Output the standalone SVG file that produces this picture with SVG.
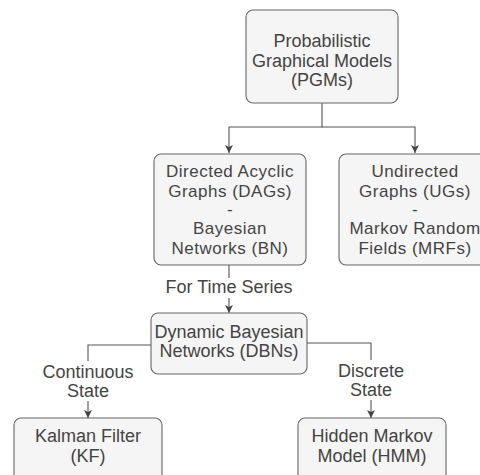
<svg xmlns="http://www.w3.org/2000/svg" width="480" height="475" viewBox="0 0 480 475">
  <style>
    .box { fill: #f5f5f5; stroke: #666666; stroke-width: 1.1; }
    .edge { fill: none; stroke: #555555; stroke-width: 1.1; }
    text { font-family: "Liberation Sans", Arial, sans-serif; font-size: 18px; fill: #444444; text-anchor: middle; }
    text.tight { font-size: 17px; letter-spacing: 0.5px; }
    .lblbg { fill: #ffffff; }
  </style>
  <defs>
    <marker id="arrow" viewBox="0 0 10 10" refX="10" refY="5" markerWidth="8" markerHeight="8" markerUnits="userSpaceOnUse" orient="auto">
      <path d="M0,0 L10,5 L0,10 L2.5,5 Z" fill="#444444"/>
    </marker>
  </defs>
  <rect width="480" height="475" fill="#ffffff"/>

  <!-- connectors -->
  <g id="connectors">
    <path class="edge" d="M322,103 V127 H229 V153" marker-end="url(#arrow)"/>
    <path class="edge" d="M322,127 H415 V153" marker-end="url(#arrow)"/>
    <path class="edge" d="M229,265 V313" marker-end="url(#arrow)"/>
    <path class="edge" d="M151,345 H88 V418" marker-end="url(#arrow)"/>
    <path class="edge" d="M307,343 H371 V418" marker-end="url(#arrow)"/>
    <!-- edge labels -->
    <g id="label-time-series">
      <rect class="lblbg" x="164" y="278" width="130" height="20"/>
      <text x="229" y="293">For Time Series</text>
    </g>
    <g id="label-continuous">
      <rect class="lblbg" x="41" y="361" width="94" height="40"/>
      <text x="88" y="378">Continuous<tspan x="88" y="397">State</tspan></text>
    </g>
    <g id="label-discrete">
      <rect class="lblbg" x="332" y="360" width="78" height="40"/>
      <text x="371" y="377">Discrete<tspan x="371" y="396">State</tspan></text>
    </g>
  </g>

  <g id="pgm">
    <rect class="box" x="246" y="10" width="152" height="93" rx="7"/>
    <text x="322" y="47">Probabilistic<tspan x="322" y="67">Graphical Models</tspan><tspan x="322" y="86">(PGMs)</tspan></text>
  </g>

  <g id="dag">
    <rect class="box" x="154" y="154" width="152" height="111" rx="7"/>
    <text class="tight" x="230" y="177">Directed Acyclic<tspan x="230" y="196.5">Graphs (DAGs)</tspan><tspan x="230" y="215">-</tspan><tspan x="230" y="234">Bayesian</tspan><tspan x="230" y="253.5">Networks (BN)</tspan></text>
  </g>

  <g id="ug">
    <rect class="box" x="339" y="154" width="152" height="111" rx="7"/>
    <text class="tight" x="415" y="177">Undirected<tspan x="415" y="196.5">Graphs (UGs)</tspan><tspan x="415" y="215">-</tspan><tspan x="415" y="234">Markov Random</tspan><tspan x="415" y="253.5">Fields (MRFs)</tspan></text>
  </g>

  <g id="dbn">
    <rect class="box" x="151" y="313" width="156" height="61" rx="7"/>
    <text x="229" y="338">Dynamic Bayesian<tspan x="229" y="357">Networks (DBNs)</tspan></text>
  </g>

  <g id="kf">
    <rect class="box" x="14" y="418" width="148" height="70" rx="7"/>
    <text x="88" y="442">Kalman Filter<tspan x="88" y="462">(KF)</tspan></text>
  </g>

  <g id="hmm">
    <rect class="box" x="298" y="418" width="148" height="70" rx="7"/>
    <text x="372" y="442">Hidden Markov<tspan x="372" y="462">Model (HMM)</tspan></text>
  </g>
</svg>
